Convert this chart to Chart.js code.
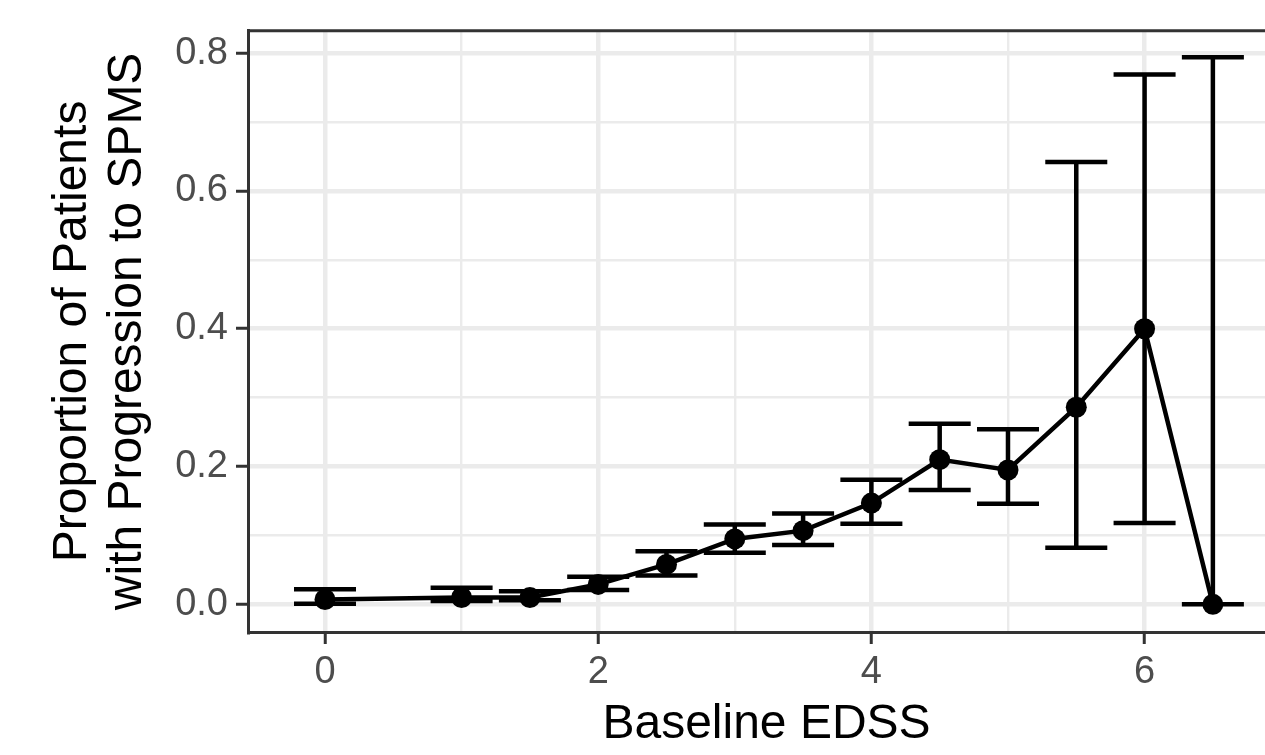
<!DOCTYPE html>
<html lang="en">
<head>
    <meta charset="UTF-8">
    <title>Progression to SPMS by Baseline EDSS</title>
    <script src="https://cdn.jsdelivr.net/npm/chart.js"></script>
    <style>
        body { margin: 0; background: #fff; overflow: hidden; }
        /* panel runs past the right edge of the window, as in the cropped original */
        .chart-container { width: 1285px; height: 755px; position: relative; }
    </style>
</head>
<body>
    <div class="chart-container">
        <canvas id="spmsChart"></canvas>
    </div>

    <script>
        // values
        const edss       = [0, 1, 1.5, 2, 2.5, 3, 3.5, 4, 4.5, 5, 5.5, 6, 6.5];
        const proportion = [0.007, 0.010, 0.010, 0.029, 0.058, 0.095, 0.107, 0.147, 0.210, 0.195, 0.286, 0.400, 0.000];
        const lowerCI    = [0.001, 0.005, 0.006, 0.021, 0.042, 0.075, 0.086, 0.117, 0.166, 0.146, 0.082, 0.118, 0.000];
        const upperCI    = [0.022, 0.024, 0.019, 0.040, 0.077, 0.116, 0.132, 0.181, 0.262, 0.254, 0.642, 0.769, 0.794];

        const xMajorTicks = [0, 2, 4, 6];
        const xMinorTicks = [1, 3, 5];
        const yMajorTicks = [0, 0.2, 0.4, 0.6, 0.8];
        const yMinorTicks = [0.1, 0.3, 0.5, 0.7];

        const capHalfWidth = 0.227; // error bar cap, in EDSS units

        const isMajor = (list, v) => list.some(t => Math.abs(t - v) < 1e-9);

        // error bars drawn through the chart's scales
        const errorBars = {
            id: 'errorBars',
            afterDatasetsDraw(chart) {
                const { ctx, chartArea, scales: { x, y } } = chart;
                ctx.save();
                ctx.beginPath();
                ctx.rect(chartArea.left, chartArea.top, chartArea.right - chartArea.left, chartArea.bottom - chartArea.top);
                ctx.clip();
                ctx.strokeStyle = '#000';
                ctx.lineWidth = 4.5;
                ctx.lineCap = 'butt';
                edss.forEach((e, i) => {
                    const px = x.getPixelForValue(e);
                    const pl = x.getPixelForValue(e - capHalfWidth);
                    const pr = x.getPixelForValue(e + capHalfWidth);
                    const yLo = y.getPixelForValue(lowerCI[i]);
                    const yHi = y.getPixelForValue(upperCI[i]);
                    ctx.beginPath();
                    ctx.moveTo(px, yLo); ctx.lineTo(px, yHi);
                    ctx.moveTo(pl, yLo); ctx.lineTo(pr, yLo);
                    ctx.moveTo(pl, yHi); ctx.lineTo(pr, yHi);
                    ctx.stroke();
                });
                ctx.restore();
            },
            afterDraw(chart) {
                // top and right edges of the panel border
                const { ctx, chartArea } = chart;
                ctx.save();
                ctx.strokeStyle = '#333333';
                ctx.lineWidth = 3;
                ctx.beginPath();
                ctx.moveTo(chartArea.left, chartArea.top);
                ctx.lineTo(chartArea.right, chartArea.top);
                ctx.lineTo(chartArea.right, chartArea.bottom);
                ctx.stroke();
                ctx.restore();
            }
        };

        const ctx = document.getElementById('spmsChart').getContext('2d');
        new Chart(ctx, {
            type: 'scatter',
            data: {
                datasets: [{
                    data: edss.map((e, i) => ({ x: e, y: proportion[i] })),
                    showLine: true,
                    borderColor: '#000',
                    borderWidth: 4.5,
                    backgroundColor: '#000',
                    pointRadius: 10.5,
                    pointHoverRadius: 10.5,
                    pointBorderWidth: 0,
                    tension: 0
                }]
            },
            options: {
                responsive: true,
                maintainAspectRatio: false,
                animation: false,
                layout: { autoPadding: false, padding: { top: 30, left: 0, right: 0, bottom: 0 } },
                plugins: {
                    legend: { display: false },
                    tooltip: { enabled: false }
                },
                scales: {
                    x: {
                        type: 'linear',
                        min: -0.5637,
                        max: 7.028,
                        afterBuildTicks(scale) {
                            scale.ticks = xMajorTicks.concat(xMinorTicks).sort((a, b) => a - b).map(v => ({ value: v }));
                        },
                        afterFit(scale) { scale.height = 123; },
                        ticks: {
                            color: '#4D4D4D',
                            font: { family: 'Liberation Sans, Arial, sans-serif', size: 38 },
                            padding: 6,
                            maxRotation: 0,
                            autoSkip: false,
                            callback: v => isMajor(xMajorTicks, v) ? String(v) : ''
                        },
                        grid: {
                            color: '#EBEBEB',
                            lineWidth: c => isMajor(xMajorTicks, c.tick.value) ? 4.5 : 2.4,
                            tickColor: c => isMajor(xMajorTicks, c.tick.value) ? '#333333' : 'rgba(0,0,0,0)',
                            tickWidth: 3,
                            tickLength: 12
                        },
                        border: { display: true, color: '#333333', width: 3 },
                        title: {
                            display: true,
                            text: 'Baseline EDSS',
                            color: '#000',
                            font: { family: 'Liberation Sans, Arial, sans-serif', size: 48, lineHeight: 1.17 },
                            padding: { top: 0, bottom: 2 }
                        }
                    },
                    y: {
                        type: 'linear',
                        min: -0.0401,
                        max: 0.8323,
                        afterBuildTicks(scale) {
                            scale.ticks = yMajorTicks.concat(yMinorTicks).sort((a, b) => a - b).map(v => ({ value: v }));
                        },
                        afterFit(scale) { scale.width = 248; },
                        ticks: {
                            color: '#4D4D4D',
                            font: { family: 'Liberation Sans, Arial, sans-serif', size: 38 },
                            padding: 8,
                            autoSkip: false,
                            callback: v => isMajor(yMajorTicks, v) ? v.toFixed(1) : ''
                        },
                        grid: {
                            color: '#EBEBEB',
                            lineWidth: c => isMajor(yMajorTicks, c.tick.value) ? 4.5 : 2.4,
                            tickColor: c => isMajor(yMajorTicks, c.tick.value) ? '#333333' : 'rgba(0,0,0,0)',
                            tickWidth: 3,
                            tickLength: 12
                        },
                        border: { display: true, color: '#333333', width: 3 },
                        title: {
                            display: true,
                            text: ['Proportion of Patients', 'with Progression to SPMS'],
                            color: '#000',
                            font: { family: 'Liberation Sans, Arial, sans-serif', size: 48, lineHeight: 1.15 },
                            padding: { top: 45, bottom: 0 }
                        }
                    }
                }
            },
            plugins: [errorBars]
        });
    </script>
</body>
</html>
